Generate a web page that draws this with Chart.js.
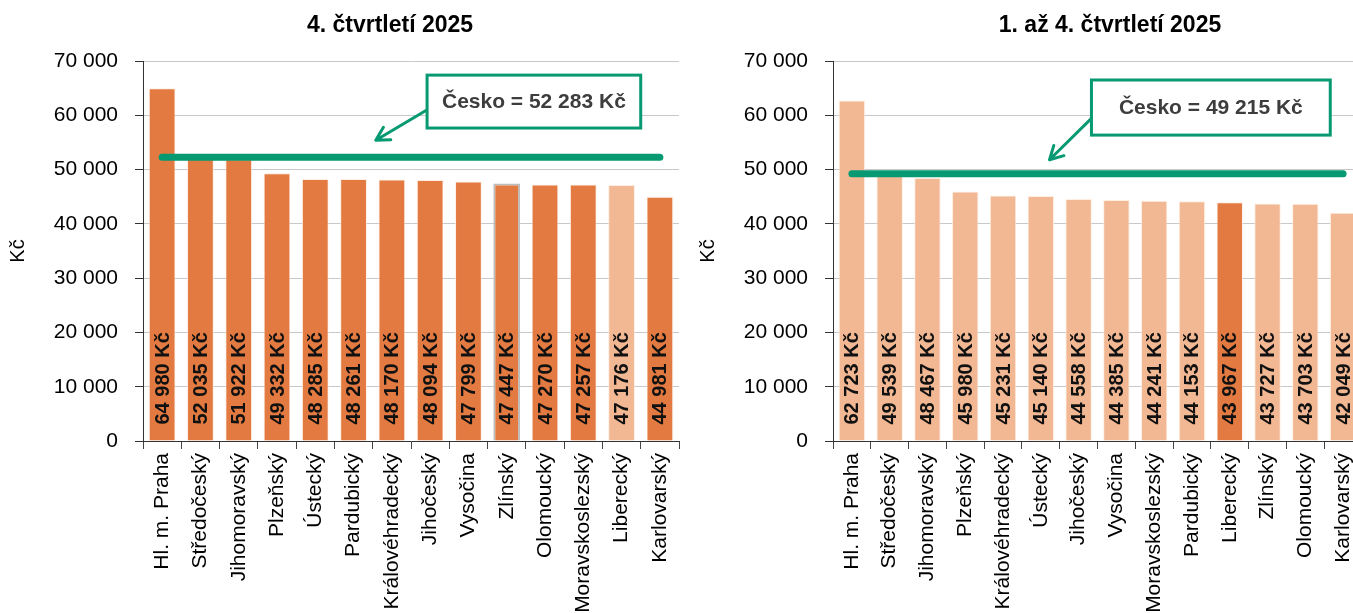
<!DOCTYPE html>
<html>
<head>
<meta charset="utf-8">
<script src="https://cdn.jsdelivr.net/npm/chart.js@4/dist/chart.umd.min.js"></script>
<style>
  html, body { margin: 0; padding: 0; background: #fff; overflow: hidden; width: 1353px; height: 613px; }
  canvas { position: absolute; top: 0; }
</style>
</head>
<body>
<canvas id="q4" width="780" height="613" style="left:0"></canvas>
<canvas id="q1to4" width="840" height="613" style="left:690px"></canvas>
<script>
// --- data (4. čtvrtletí 2025) ---
const regionsQ4 = ['Hl. m. Praha', 'Středočeský', 'Jihomoravský', 'Plzeňský', 'Ústecký', 'Pardubický',
    'Královéhradecký', 'Jihočeský', 'Vysočina', 'Zlínský', 'Olomoucký', 'Moravskoslezský', 'Liberecký', 'Karlovarský'];
const wagesQ4 = [64980, 52035, 51922, 49332, 48285, 48261, 48170, 48094, 47799, 47447, 47270, 47257, 47176, 44981];
const czechiaQ4 = 52283;

// --- data (1. až 4. čtvrtletí 2025) ---
const regionsYear = ['Hl. m. Praha', 'Středočeský', 'Jihomoravský', 'Plzeňský', 'Královéhradecký', 'Ústecký',
    'Jihočeský', 'Vysočina', 'Moravskoslezský', 'Pardubický', 'Liberecký', 'Zlínský', 'Olomoucký', 'Karlovarský'];
const wagesYear = [62723, 49539, 48467, 45980, 45231, 45140, 44558, 44385, 44241, 44153, 43967, 43727, 43703, 42049];
const czechiaYear = 49215;

const yTicks = [0, 10000, 20000, 30000, 40000, 50000, 60000, 70000];
const highlighted = 'Liberecký';

const DARK = '#E27A41';
const LIGHT = '#F2B893';
const GREEN = '#079A72';
const FONT = "'Liberation Sans', Arial, sans-serif";

const fmt = v => String(v).replace(/\B(?=(\d{3})+(?!\d))/g, ' ');

// title centred on the whole canvas (layout padding would shift the built-in one)
const headline = {
    id: 'headline',
    afterDraw(chart, args, opts) {
        const ctx = chart.ctx;
        ctx.save();
        ctx.font = 'bold 23px ' + FONT;
        ctx.fillStyle = '#000';
        ctx.textAlign = 'center';
        ctx.textBaseline = 'middle';
        ctx.fillText(opts.text, chart.width / 2, 26);
        ctx.restore();
    }
};

// bar value labels + "Česko" callout box with arrow
const annotate = {
    id: 'annotate',
    afterDatasetsDraw(chart, args, opts) {
        const ctx = chart.ctx;
        const meta = chart.getDatasetMeta(0);
        const values = chart.data.datasets[0].data;
        ctx.save();
        ctx.font = 'bold 20px ' + FONT;
        ctx.fillStyle = '#111';
        ctx.textAlign = 'left';
        ctx.textBaseline = 'middle';
        meta.data.forEach((bar, i) => {
            ctx.save();
            ctx.translate(bar.x + 1, bar.base - 16);
            ctx.rotate(-Math.PI / 2);
            ctx.fillText(fmt(values[i]) + ' Kč', 0, 0);
            ctx.restore();
        });

        const x = chart.scales.x, y = chart.scales.y;
        const c = opts.callout;
        const bx0 = x.getPixelForValue(c.box[0]), bx1 = x.getPixelForValue(c.box[1]);
        const by0 = y.getPixelForValue(c.box[2]), by1 = y.getPixelForValue(c.box[3]);
        const ax0 = x.getPixelForValue(c.from[0]), ay0 = y.getPixelForValue(c.from[1]);
        const ax1 = x.getPixelForValue(c.to[0]), ay1 = y.getPixelForValue(c.to[1]);

        ctx.strokeStyle = GREEN;
        ctx.lineWidth = 3;
        ctx.lineCap = 'round';
        ctx.beginPath();
        ctx.moveTo(ax0, ay0);
        ctx.lineTo(ax1, ay1);
        const ang = Math.atan2(ay1 - ay0, ax1 - ax0);
        [0.5, -0.5].forEach(d => {
            ctx.moveTo(ax1, ay1);
            ctx.lineTo(ax1 - 15 * Math.cos(ang + d), ay1 - 15 * Math.sin(ang + d));
        });
        ctx.stroke();

        ctx.fillStyle = '#fff';
        ctx.fillRect(bx0, by0, bx1 - bx0, by1 - by0);
        ctx.lineWidth = 3;
        ctx.strokeRect(bx0, by0, bx1 - bx0, by1 - by0);
        ctx.fillStyle = '#3d3d3d';
        ctx.font = 'bold 21px ' + FONT;
        ctx.textAlign = 'center';
        ctx.fillText('Česko = ' + fmt(c.value) + ' Kč', (bx0 + bx1) / 2, (by0 + by1) / 2 + 1);
        ctx.restore();
    }
};

function makeChart(id, title, labels, values, avg, base, hi, padRight, callout) {
    const colors = labels.map(l => l === highlighted ? hi : base);
    const borders = labels.map(l => l === 'Zlínský' && base === DARK ? '#BDBDBD' : 'rgba(255,235,220,0.8)');
    const borderW = labels.map(l => l === 'Zlínský' && base === DARK ? 2 : 1);
    new Chart(document.getElementById(id), {
        data: {
            labels: labels,
            datasets: [{
                type: 'bar',
                data: values,
                backgroundColor: colors,
                borderColor: borders,
                borderWidth: borderW,
                barPercentage: 0.7,
                categoryPercentage: 1,
                order: 1
            }, {
                type: 'line',
                data: labels.map(() => avg),
                borderColor: GREEN,
                borderWidth: 7,
                borderCapStyle: 'round',
                pointRadius: 0,
                order: 0
            }]
        },
        options: {
            responsive: false,
            animation: false,
            layout: { padding: { top: 61, right: padRight } },
            plugins: {
                legend: { display: false },
                tooltip: { enabled: false },
                title: { display: false },
                headline: { text: title },
                annotate: { callout: Object.assign({ value: avg }, callout) }
            },
            scales: {
                x: {
                    grid: { offset: true, drawOnChartArea: false, tickLength: 8, color: '#444', tickColor: '#444' },
                    border: { color: '#333' },
                    ticks: { autoSkip: false, minRotation: 90, maxRotation: 90, padding: 4,
                             color: '#000', font: { size: 21, family: FONT } },
                    afterFit: s => { s.height = 172; }
                },
                y: {
                    min: 0,
                    max: 70000,
                    afterBuildTicks: s => { s.ticks = yTicks.map(v => ({ value: v })); },
                    ticks: { padding: 17, color: '#000', font: { size: 21, family: FONT }, callback: v => fmt(v) },
                    grid: { color: '#c8c8c8', tickColor: '#333', tickLength: 8 },
                    border: { color: '#333' },
                    title: { display: true, text: 'Kč', color: '#000', font: { size: 20, family: FONT },
                             padding: { top: 6, bottom: 0 } },
                    afterFit: s => { s.width = 143; }
                }
            }
        },
        plugins: [annotate, headline]
    });
}

makeChart('q4', '4. čtvrtletí 2025', regionsQ4, wagesQ4, czechiaQ4, DARK, LIGHT, 101,
    { box: [6.92, 12.5, 67400, 57650], from: [6.99, 61300], to: [5.58, 55400] });
makeChart('q1to4', '1. až 4. čtvrtletí 2025', regionsYear, wagesYear, czechiaYear, LIGHT, DARK, 168,
    { box: [6.34, 12.66, 66500, 56350], from: [6.48, 60400], to: [5.23, 51800] });
</script>
</body>
</html>
